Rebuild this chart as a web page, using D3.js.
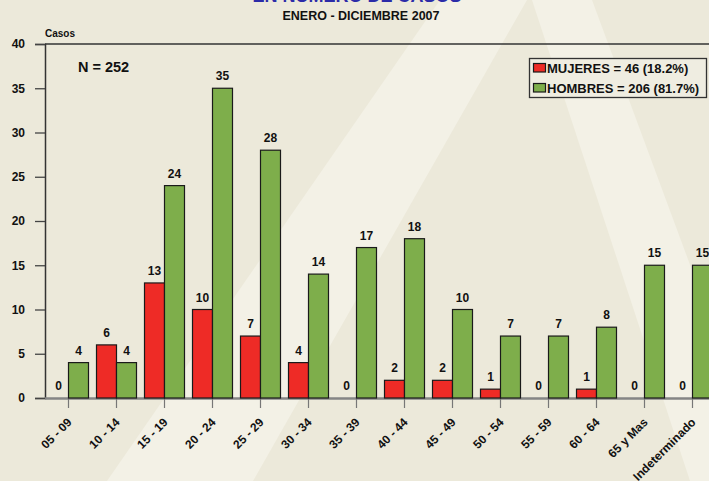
<!DOCTYPE html>
<html><head><meta charset="utf-8">
<script src="https://cdn.jsdelivr.net/npm/d3@7"></script>
<style>
html,body{margin:0;padding:0;background:#ECE9DA;}
svg{display:block;font-family:"Liberation Sans",Arial,sans-serif;}
</style></head>
<body>
<script>
const categories = ["05 - 09","10 - 14","15 - 19","20 - 24","25 - 29","30 - 34","35 - 39","40 - 44","45 - 49","50 - 54","55 - 59","60 - 64","65 y Mas","Indeterminado"];
const mujeres = [0,6,13,10,7,4,0,2,2,1,0,1,0,0];
const hombres = [4,4,24,35,28,14,17,18,10,7,7,8,15,15];
const seriesNames = ["MUJERES = 46 (18.2%)","HOMBRES = 206 (81.7%)"];
const seriesColors = ["#EE2B26","#7EAE4B"];
const yTicks = [0,5,10,15,20,25,30,35,40];
const title = "EN NÚMERO DE CASOS";
const subtitle = "ENERO - DICIEMBRE 2007";
const nLabel = "N = 252";
const yLabel = "Casos";

const W = 709, H = 481;
const svg = d3.select("body").append("svg").attr("width", W).attr("height", H);

// background
svg.append("rect").attr("width", W).attr("height", H).attr("fill", "#ECE9DA");
const light = "#F3F1E6";
svg.append("polygon").attr("points", "440,0 527,0 253,481 107,481").attr("fill", light);
svg.append("polygon").attr("points", "532,0 592,0 770,481 690,481").attr("fill", light);

const plotLeft = 44.5, plotTop = 44, plotBottom = 398;
const x = d3.scaleBand().domain(categories).range([plotLeft, plotLeft + 48 * categories.length])
  .paddingInner(8 / 48).paddingOuter(4 / 48);
const xs = d3.scaleBand().domain([0, 1]).range([0, x.bandwidth()]);
const y = d3.scaleLinear().domain([0, 40]).range([plotBottom, plotTop]);

// titles
svg.append("text").attr("x", 357).attr("y", 2).attr("text-anchor", "middle")
  .attr("font-size", 18).attr("font-weight", "bold").attr("fill", "#2B2BA8").text(title);
svg.append("text").attr("x", 361).attr("y", 20).attr("text-anchor", "middle")
  .attr("font-size", 12.5).attr("font-weight", "bold").attr("fill", "#111").text(subtitle);
svg.append("text").attr("x", 45).attr("y", 37)
  .attr("font-size", 10).attr("font-weight", "bold").attr("fill", "#111").text(yLabel);

// top border
svg.append("line").attr("x1", 45).attr("x2", W).attr("y1", y(40)).attr("y2", y(40))
  .attr("stroke", "#333").attr("stroke-width", 1.3);

// y axis
const yAxis = svg.append("g").attr("transform", `translate(45,0)`)
  .call(d3.axisLeft(y).tickValues(yTicks).tickSize(10).tickPadding(10));
yAxis.select(".domain").attr("stroke", "#333").attr("stroke-width", 1.5);
yAxis.selectAll(".tick line").attr("stroke", "#444").attr("stroke-width", 1.3);
yAxis.selectAll("text").attr("font-size", 12).attr("font-weight", "bold").attr("fill", "#111")
  .attr("font-family", "Liberation Sans, Arial, sans-serif");

// x axis
const xAxis = svg.append("g").attr("transform", `translate(0,${plotBottom})`)
  .call(d3.axisBottom(x).tickSize(10).tickSizeOuter(0).tickPadding(4));
xAxis.select(".domain").attr("stroke", "#858585").attr("stroke-width", 2.5);
xAxis.selectAll(".tick line").attr("stroke", "#777").attr("stroke-width", 1.2);
xAxis.selectAll("text").attr("font-size", 12).attr("font-weight", "bold").attr("fill", "#111")
  .attr("font-family", "Liberation Sans, Arial, sans-serif")
  .attr("text-anchor", "end").attr("dy", null).attr("y", 0)
  .attr("transform", "translate(4,25) rotate(-45)");

// bars
const data = categories.map((c, i) => ({c, v: [mujeres[i], hombres[i]]}));
const groups = svg.append("g").selectAll("g").data(data).join("g")
  .attr("transform", d => `translate(${x(d.c)},0)`);
groups.selectAll("rect").data(d => d.v.map((v, k) => ({v, k}))).join("rect")
  .attr("x", d => xs(d.k)).attr("width", xs.bandwidth())
  .attr("y", d => y(d.v)).attr("height", d => plotBottom - y(d.v))
  .attr("fill", d => seriesColors[d.k]).attr("stroke", "#1a1a1a")
  .attr("stroke-width", d => d.v === 0 ? 2 : 1.2);
groups.selectAll("text").data(d => d.v.map((v, k) => ({v, k}))).join("text")
  .attr("x", d => xs(d.k) + xs.bandwidth() / 2).attr("y", d => y(d.v) - 8)
  .attr("text-anchor", "middle").attr("font-size", 12).attr("font-weight", "bold")
  .attr("fill", "#111").text(d => d.v);

// N label
svg.append("text").attr("x", 78).attr("y", 72).attr("font-size", 14.5).attr("font-weight", "bold")
  .attr("fill", "#111").text(nLabel);

// legend
const lg = svg.append("g");
lg.append("rect").attr("x", 529.5).attr("y", 58.5).attr("width", 177).attr("height", 39)
  .attr("fill", "#EFEDE1").attr("stroke", "#333").attr("stroke-width", 1.3);
seriesNames.forEach((s, k) => {
  lg.append("rect").attr("x", 533.5).attr("y", 63.5 + k * 20).attr("width", 12).attr("height", 8.5)
    .attr("fill", seriesColors[k]).attr("stroke", "#1a1a1a").attr("stroke-width", 1.2);
  lg.append("text").attr("x", 547).attr("y", 72.5 + k * 20).attr("font-size", 13)
    .attr("font-weight", "bold").attr("fill", "#111").text(s);
});
</script>
</body></html>
